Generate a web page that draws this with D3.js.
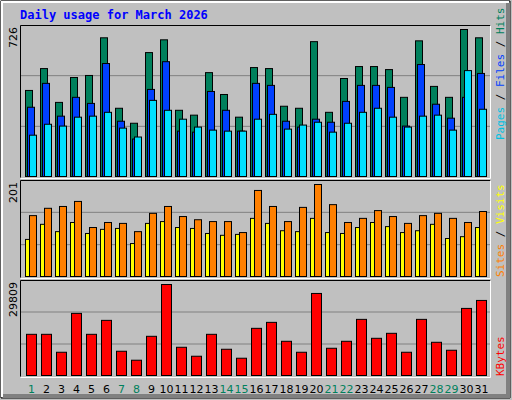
<!DOCTYPE html><html><head><meta charset="utf-8">
<script src="https://cdn.jsdelivr.net/npm/d3@7"></script>
<style>body{margin:0;background:#fff}svg{display:block}</style></head><body>
<script>
const days = d3.range(1,32);
const weekendDays = [1,7,8,14,15,21,22,28,29];
const hits  = [425,533,366,489,499,685,337,263,612,675,327,303,513,405,293,538,533,347,337,666,317,484,543,543,528,391,670,445,391,726,685];
const files = [342,460,298,391,361,558,273,185,430,567,224,219,420,327,224,460,450,273,244,283,268,371,450,450,440,249,553,357,288,391,509];
const pages = [204,258,249,293,298,317,239,195,376,327,283,244,229,224,224,283,307,234,254,268,219,263,317,337,293,244,298,303,229,523,332];
const sites = [81,114,98,118,94,103,105,72,116,120,107,105,94,90,92,127,116,100,98,127,96,94,107,118,109,96,100,114,83,87,107];
const visits= [133,149,153,164,107,118,116,98,138,153,131,124,120,120,96,188,153,120,151,201,157,118,127,144,131,116,133,138,127,118,142];
const kbytes= [13491,13491,7616,20346,13491,18061,7942,5005,12838,29809,9248,6310,13491,8595,5658,15450,17408,11206,7616,26874,8922,11206,18387,12186,13818,7616,18387,10880,8269,21978,24589];
const W=512,H=400;
const svg=d3.select("body").append("svg").attr("width",W).attr("height",H);
svg.append("rect").attr("width",W).attr("height",H).attr("fill","#C0C0C0");
// bevel
svg.append("path").attr("d","M1,1H510V398H1Z").attr("fill","none").attr("stroke","#000");
svg.append("path").attr("d","M2,397V2H509").attr("fill","none").attr("stroke","#fff").attr("stroke-width",2);
svg.append("path").attr("d","M3,396H508V3").attr("fill","none").attr("stroke","#808080").attr("stroke-width",4);
svg.append("text").attr("x",20).attr("y",19).text("Daily usage for March 2026")
 .attr("font-family","DejaVu Sans Mono").attr("font-weight","bold").attr("font-size",12).attr("fill","#0000FF");
const x=d3.scaleBand().domain(days).range([25,490]).paddingInner(0).paddingOuter(0);
function panel(top,bottom,maxv,maxLabel){
  svg.append("rect").attr("x",20).attr("y",top).attr("width",471).attr("height",bottom-top).attr("fill","#C0C0C0");
  const h=bottom-top;
  [1/3,2/3].forEach(f=>svg.append("line").attr("x1",21).attr("x2",490).attr("y1",bottom-h*f).attr("y2",bottom-h*f).attr("stroke","#808080"));
  svg.append("path").attr("d",`M20.5,${bottom+0.5}V${top+0.5}H490.5`).attr("fill","none").attr("stroke","#000");
  svg.append("path").attr("d",`M20.5,${bottom+1.5}H490.5V${top+0.5}`).attr("fill","none").attr("stroke","#fff");
  svg.append("text").attr("transform",`translate(17,${top+2}) rotate(-90)`).attr("text-anchor","end")
   .attr("font-family","DejaVu Sans").attr("font-size",11).text(maxLabel);
}
function bars(data,y,off,w,color){
  svg.append("g").selectAll("rect").data(data).join("rect")
   .attr("x",(d,i)=>x(days[i])+off+0.5).attr("width",w).attr("y",d=>y(d)+0.5).attr("height",d=>y(0)-y(d))
   .attr("fill",color).attr("stroke","#000");
}
function rlabel(parts,x0,y0){
  const t=svg.append("text").attr("transform",`translate(${x0},${y0}) rotate(-90)`)
   .attr("font-family","DejaVu Sans Mono").attr("font-size",11);
  parts.forEach(p=>t.append("tspan").attr("fill",p[1]).text(p[0]));
}
// top
panel(25,177,726,"726");
const y1=d3.scaleLinear().domain([0,726]).range([176,29]);
bars(hits,y1,0,7,"#00805C");bars(files,y1,2,7,"#0040FF");bars(pages,y1,4,7,"#00E0FF");
rlabel([["Pages","#00C0E0"],[" / ","#000"],["Files","#0040FF"],[" / ","#000"],["Hits","#00805C"]],504,140);
// middle
panel(180,277,201,"201");
const y2=d3.scaleLinear().domain([0,201]).range([276,184]);
bars(sites,y2,0,4,"#FFFF00");bars(visits,y2,4,7,"#FF8000");
rlabel([["Sites","#FF8000"],[" / ","#000"],["Visits","#FFFF00"]],504,277);
// bottom
panel(280,376,29809,"29809");
const y3=d3.scaleLinear().domain([0,29809]).range([375,284]);
bars(kbytes,y3,1,10,"#FF0000");
rlabel([["KBytes","#FF0000"]],504,376);
svg.append("g").selectAll("text").data(days).join("text")
 .attr("x",d=>x(d)+x.bandwidth()/2-1).attr("y",393).attr("text-anchor","middle")
 .attr("font-family","DejaVu Sans").attr("font-size",11)
 .attr("fill",d=>weekendDays.includes(d)?"#00805C":"#000").text(d=>d);
</script></body></html>
